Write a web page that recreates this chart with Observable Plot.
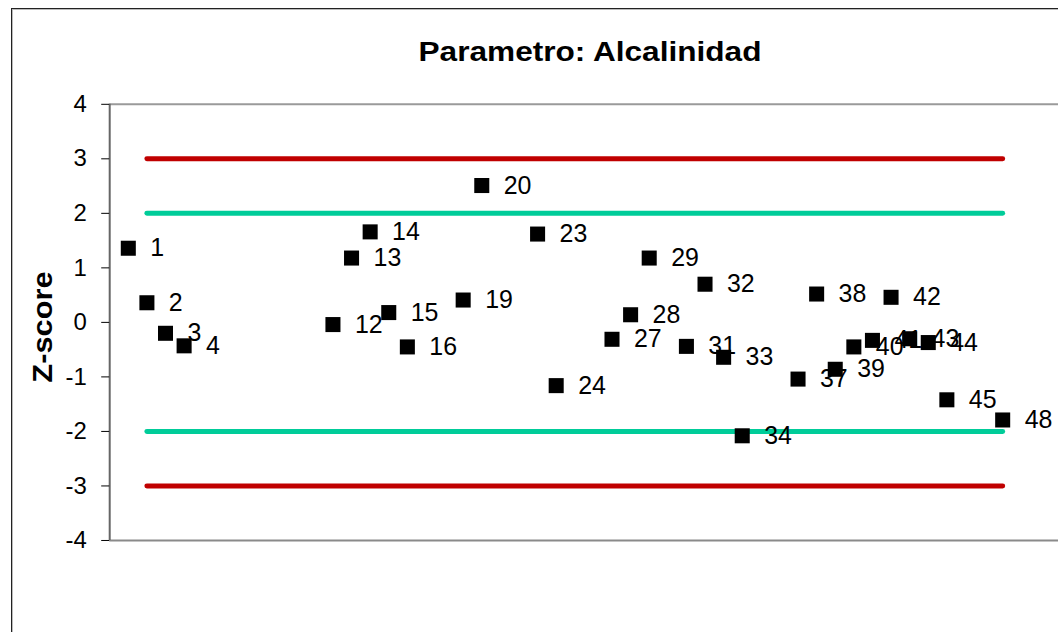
<!DOCTYPE html>
<html><head><meta charset="utf-8">
<script src="https://cdn.jsdelivr.net/npm/d3@7"></script>
<script src="https://cdn.jsdelivr.net/npm/@observablehq/plot@0.6"></script>
<style>
html,body{margin:0;padding:0;background:#fff;overflow:hidden;}
#wrap{position:relative;width:1058px;height:632px;overflow:hidden;font-family:"Liberation Sans",Arial,sans-serif;}
#border{position:absolute;left:11px;top:8px;width:1200px;height:800px;border-left:1px solid #222;border-top:1px solid #222;box-shadow:inset 1px 1px 0 #bbb;}
#chart{position:absolute;left:0;top:0;}
#title{position:absolute;left:0;width:1180px;top:39px;text-align:center;font-weight:bold;font-size:27px;line-height:27px;transform:scaleX(1.17);transform-origin:590px 0;color:#000;white-space:nowrap;}
#ytitle{position:absolute;left:43px;top:327px;font-weight:bold;font-size:28px;line-height:28px;white-space:nowrap;transform:translate(-50%,-50%) rotate(-90deg) scaleX(1.1);color:#000;}
</style></head>
<body>
<div id="wrap">
  <div id="border"></div>
  <div id="chart"></div>
  <div id="title"></div>
  <div id="ytitle"></div>
</div>
<script>
// ---- data ----
const titleText = "Parametro: Alcalinidad";
const yLabel = "Z-score";
const labs    = [1, 2, 3, 4, 12, 13, 14, 15, 16, 19, 20, 23, 24, 27, 28, 29, 31, 32, 33, 34, 37, 38, 39, 40, 41, 42, 43, 44, 45, 48];
const zscores = [1.36, 0.36, -0.20, -0.43, -0.04, 1.18, 1.66, 0.18, -0.45, 0.41, 2.51, 1.62, -1.16, -0.31, 0.14, 1.18, -0.44, 0.70, -0.64, -2.08, -1.04, 0.52, -0.86, -0.45, -0.33, 0.46, -0.30, -0.37, -1.42, -1.79];
const limitLevels = [3, 2, -2, -3];
const limitColors = ["#C00000", "#00CC99", "#00CC99", "#C00000"];
const limitFrom = 2, limitTo = 48;
const yTicks = [-4, -3, -2, -1, 0, 1, 2, 3, 4];
const xDomain = [0, 51];
const yDomain = [-4, 4];

document.getElementById("title").textContent = titleText;
document.getElementById("ytitle").textContent = yLabel;

const points = labs.map((lab, i) => ({lab, z: zscores[i]}));
const limits = limitLevels.flatMap((lv, i) => [
  {x: limitFrom, y: lv, k: i, c: limitColors[i]},
  {x: limitTo, y: lv, k: i, c: limitColors[i]}
]);

const chart = Plot.plot({
  width: 1060, height: 632,
  marginLeft: 109.4, marginRight: 0, marginTop: 104, marginBottom: 91,
  x: {domain: xDomain, axis: null},
  y: {domain: yDomain, axis: null},
  color: {type: "identity"},
  style: {fontFamily: "'Liberation Sans', Arial, sans-serif", background: "transparent", color: "#000", overflow: "visible"},
  marks: [
    Plot.ruleY([yDomain[1]], {stroke: "#9a9a9a", strokeWidth: 2}),
    Plot.ruleY([yDomain[0]], {stroke: "#8a8a8a", strokeWidth: 2}),
    Plot.line(limits, {x: "x", y: "y", z: "k", stroke: "c", strokeWidth: 5, strokeLinecap: "round"}),
    Plot.ruleX([xDomain[0]], {stroke: "#666", strokeWidth: 2}),
    Plot.axisY({ticks: yTicks, tickSize: 8, tickFormat: () => "", label: null, stroke: "#000"}),
    Plot.text(yTicks, {y: d => d, text: d => String(d), frameAnchor: "left", dx: -23, textAnchor: "end", fontSize: 24, fill: "#000"}),
    Plot.dot(points, {x: "lab", y: "z", symbol: "square", r: 8.5, fill: "#000", stroke: "none"}),
    Plot.text(points, {x: "lab", y: "z", text: d => String(d.lab), dx: 22, textAnchor: "start", fontSize: 25, fill: "#000"})
  ]
});
document.getElementById("chart").appendChild(chart);
</script>
</body></html>
